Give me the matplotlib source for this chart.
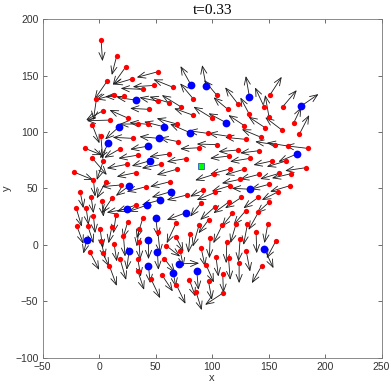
import matplotlib
matplotlib.use("Agg")
import matplotlib.pyplot as plt

# ── agents (red): position x, y and velocity u, v ───────────────────────────
red_x = [1.8, 15.6, 23.6, 51.9, 29.5, 7.1, 49.0, 65.8, 38.6, 13.3, 22.1, -2.4, 51.9, 61.7,
         83.5, 72.3, 104.1, 113.9, 122.7, 151.3, 146.0, 150.4, 162.5, 172.3, 177.3,
         3.5, 10.0, 26.0, 44.2, -5.9, 34.8, 43.4, 68.7, 82.9, 100.3, 128.6, 146.9, 161.7,
         143.4, 133.0, 1.5, 29.8, 70.2, 88.5, 96.2, 104.7, 114.5, 129.8, 155.8, 167.0,
         184.7, 123.3, 18.6, -12.4, 34.8, 61.9, -5.9, 76.7, 3.8, 24.5, 54.9, -21.8, 32.4,
         68.7, 5.9, -5.0, 19.5, 41.6, 62.8, -16.8, -7.1, 77.6, 2.4, 11.8, 32.7, -20.4,
         -11.5, -5.0, 15.0, 38.6,
         115.3, 141.9, 133.6, 152.8, 165.5, 115.9, 128.3, 141.6, 182.9, 101.8, 124.8,
         159.3, 169.9, 150.4, 169.0, 115.9, 92.3, 102.9, 141.0, 158.7, 126.0, 114.5,
         150.4, 90.0, 102.7, 118.0, 129.8, 141.0, 96.8, 109.1, 121.2, 131.3, 149.3,
         138.9, 98.2, 113.0, 124.8, 156.6, 90.3, 103.5, 114.5, 130.1, 123.9, 144.0,
         94.7, 109.4, 96.8, 85.8, 109.4, 88.5, 80.5,
         -19.8, -10.0, 0.9, 11.2, 25.4, 35.4, 21.5, 1.5, 13.3, 35.4, 51.9, 68.1, 67.8,
         59.3, 71.7, -8.3, 3.0, 18.6, 34.2, 9.1, 57.8, 34.2, 46.0, 55.5, 79.9, 68.4]
red_y = [181.4, 167.6, 157.8, 153.4, 147.2, 145.1, 141.3, 139.5, 137.8, 133.0, 131.6, 129.2,
         127.4, 126.0, 129.2, 122.4, 132.7, 120.1, 125.1, 133.0, 122.4, 113.0, 122.4,
         108.3, 98.2, 118.9, 110.6, 112.1, 120.1, 105.9, 107.1, 106.8, 107.1, 115.0,
         112.1, 105.6, 103.8, 101.8, 95.3, 115.6, 96.8, 94.4, 91.4, 86.1, 98.8, 88.8,
         96.2, 93.5, 88.8, 87.6, 85.5, 84.1, 85.2, 85.5, 79.6, 80.5, 76.7, 76.4, 74.6,
         71.4, 71.4, 64.3, 64.0, 67.0, 56.0, 57.5, 53.1, 51.6, 56.0, 47.2, 42.8, 44.2,
         38.9, 41.9, 35.4, 33.0, 33.0, 25.7, 26.5, 23.6,
         78.8, 83.5, 76.7, 74.3, 74.3, 67.3, 67.0, 62.5, 68.4, 62.5, 58.1, 63.4, 63.1,
         53.7, 52.5, 52.5, 48.7, 46.6, 42.2, 47.2, 42.2, 37.8, 37.8, 36.9, 33.9, 28.0,
         30.4, 28.9, 22.1, 17.7, 18.6, 18.6, 18.6, 11.8, 5.9, 2.4, 5.3, 3.8, -2.9,
         -10.9, -11.2, -5.0, -16.2, -18.3, -17.7, -25.7, -32.4, -41.6, -42.8, 17.7, 10.0,
         17.1, 16.8, 13.9, 15.6, 20.6, 14.2, 8.3, 3.8, 0.6, 2.4, 11.8, 19.2, 7.4, -0.6,
         -5.0, -5.9, -6.8, -12.7, -12.4, -18.6, -12.4, -23.0, -30.4, -26.5, -31.0, -35.4]
red_u = [1.2, -4.4, -11.5, -18.6, -16.8, -11.2, -19.2, -17.7, -19.5, -15.9, -16.8, -2.7,
         -16.2, -17.1, -11.8, -16.8, -11.2, -12.7, -11.2, 10.3, -8.0, -3.5, 12.4, 6.5,
         8.6, -15.0, -20.9, -16.8, -16.8, 6.2, -16.8, -16.5, -17.7, -16.5, -16.8, -14.2,
         -14.7, -14.7, -17.1, -8.0, 1.8, -17.7, -16.8, -16.8, -17.1, -18.3, -17.7, -18.3,
         -17.7, -18.6, -20.1, -17.7, -14.0, 14.7, -17.7, -17.4, 12.7, -16.8, -5.9, -17.7,
         -17.1, 16.8, -16.8, -17.7, -8.0, 1.5, -17.1, -17.1, -17.7, 2.9, 2.1, -17.7, 1.5,
         -9.4, -17.1, 5.0, 2.1, 1.5, -2.4, -5.3,
         -17.1, -17.1, -17.7, -16.2, -17.1, -17.7, -16.8, -16.8, -18.3, -16.8, -16.2,
         -16.8, -17.0, -16.2, -17.7, -16.2, -11.8, -16.5, -13.3, -14.7, -14.5, -13.3,
         -10.9, -9.4, -13.3, -9.4, -10.9, -8.8, -8.8, -8.0, -5.0, -3.5, -3.0, 0.6, -0.6,
         -0.6, -1.5, -8.3, 3.5, 2.1, 1.5, 3.5, 0.0, -8.8, 6.8, 0.6, 3.0, 5.0, -15.6,
         -5.6, -1.5,
         5.9, 5.0, 2.4, -2.9, -4.4, -2.1, 1.5, 3.8, 2.4, 0.9, 2.1, -8.3, 6.8, 12.4, 2.9,
         8.3, 5.9, 5.3, 2.7, 6.5, 9.4, 5.6, 8.0, 9.7, 5.3, 8.0]
red_v = [-18.6, -17.1, -16.2, -5.0, -5.0, -16.2, -1.2, 7.1, 0.9, -4.1, -0.3, -18.6, 3.2,
         5.3, 13.9, 10.3, 13.3, 10.6, 14.5, 15.9, 17.1, 19.8, 14.7, 13.6, 16.8, -8.3,
         -0.6, 7.4, 0.9, -15.9, 0.0, 1.5, 5.0, 5.9, 10.3, 9.4, 9.7, 11.2, 7.1, 15.0,
         -20.9, 0.9, 3.5, -1.0, 2.4, 0.6, 2.7, 1.8, 2.7, 2.9, 2.4, -1.5, -8.0, -5.9,
         -2.9, -2.4, -14.7, -2.7, -17.1, -3.5, -3.5, -6.8, -3.5, -5.0, -14.7, -14.7, -1.5,
         -4.4, -4.4, -14.7, -14.7, -4.4, -13.9, -13.9, -5.9, -16.8, -15.3, -15.3, -16.2,
         -17.7,
         -2.1, -2.1, -2.9, -3.5, -5.0, -4.7, -5.0, -4.4, -2.7, -5.3, -3.5, -5.0, -4.0,
         -4.4, -5.3, -5.0, -5.9, -6.8, -9.7, -7.4, -9.7, -9.7, -9.7, -11.8, -11.8, -11.8,
         -12.7, -15.6, -11.8, -16.2, -17.0, -18.6, -17.0, -19.2, -17.7, -18.6, -20.0,
         -15.6, -16.2, -17.1, -19.8, -18.6, -17.7, -15.6, -15.6, -16.8, -16.2, -16.2,
         -10.3, -19.2, -17.1,
         -16.2, -15.3, -16.8, -14.2, -14.7, -15.6, -18.6, -15.6, -15.3, -15.6, -19.2,
         -17.7, -13.3, -9.7, -14.2, -16.2, -12.4, -18.3, -15.6, -17.7, -12.1, -16.8,
         -16.8, -14.7, -14.7, -16.8]

# ── agents (blue) ────────────────────────────────────────────────────────────
blue_x = [81.4, 94.7, 133.0, 178.8, 32.4, 17.7, 57.2, 112.4, 80.5, 53.1, 8.3, 43.7, 174.9,
          45.1, 26.8, 63.7, 54.0, 42.8, 24.5, 77.0, 50.1, -10.9, 43.7, 133.6, 26.5, 51.6,
          43.7, 70.8, 65.8, 86.4, 146.3]
blue_y = [141.6, 140.7, 131.3, 123.0, 128.3, 104.7, 104.7, 108.3, 99.4, 94.4, 90.0, 87.6,
          80.5, 74.6, 52.5, 47.2, 39.8, 35.4, 31.9, 28.6, 24.2, 4.4, 4.4, 49.3, -5.3, -6.5,
          -18.6, -16.8, -25.1, -22.7, -3.8]
blue_u = [-9.4, -3.5, -3.2, 15.3, -16.8, -12.4, -17.4, -15.6, -17.7, -17.4, -7.4, -16.2,
          -16.2, -16.2, -12.0, -17.1, -16.2, -16.8, -17.7, -17.1, 2.0, -3.0, 0.0, -16.2,
          -2.1, 0.9, 1.5, 17.7, 2.0, 1.5, 8.0]
blue_v = [16.8, 18.6, 18.3, 10.6, 2.4, -11.2, 4.4, 8.3, 7.7, 1.5, -13.3, -2.9, -6.8, -4.7,
          -9.0, -5.0, -4.4, -5.9, -3.2, -6.5, -17.0, -12.0, -17.0, 0.9, -16.8, -15.6,
          -15.3, 0.6, -12.0, -17.1, -16.8]

# ── leader (green) ───────────────────────────────────────────────────────────
green_x = [90.3]
green_y = [70.2]

fig = plt.figure(figsize=(3.91, 3.91), dpi=100)
ax = fig.add_axes([0.109, 0.085, 0.867, 0.866])

arrow_kw = dict(arrowstyle="->,head_length=0.55,head_width=0.22",
                color="#1a1a1a", lw=0.6, shrinkA=0, shrinkB=0)
for xs, ys, us, vs in [(red_x, red_y, red_u, red_v), (blue_x, blue_y, blue_u, blue_v)]:
    for x, y, u, v in zip(xs, ys, us, vs):
        ax.annotate("", xy=(x + u, y + v), xytext=(x, y), arrowprops=arrow_kw, zorder=2)

ax.plot(red_x, red_y, "o", color="#ff0000", ms=3.8, mec="none", zorder=3)
ax.plot(blue_x, blue_y, "o", color="#0000ff", ms=5.6, mec="none", zorder=3)
ax.plot(green_x, green_y, "s", color="#00ff00", ms=4.5, mec="#3355cc", mew=0.6, zorder=4)

ax.set_xlim(-50, 250)
ax.set_ylim(-100, 200)
ax.set_xticks(range(-50, 251, 50))
ax.set_yticks(range(-100, 201, 50))
ax.tick_params(direction="in", length=3, width=0.5, top=True, right=True,
               labelsize=7.5, colors="#333333", pad=3)
for lab in ax.get_xticklabels() + ax.get_yticklabels():
    lab.set_family("Liberation Sans")
for s in ax.spines.values():
    s.set_color("#777777")
    s.set_linewidth(0.6)

ax.set_xlabel("x", fontsize=8, family="Liberation Sans", color="#333333", labelpad=1)
ax.set_ylabel("y", fontsize=8, family="Liberation Sans", color="#333333", labelpad=2)
ax.set_title("t=0.33", fontsize=11, family="Liberation Serif", pad=4)

fig.savefig("out.png", dpi=100)
